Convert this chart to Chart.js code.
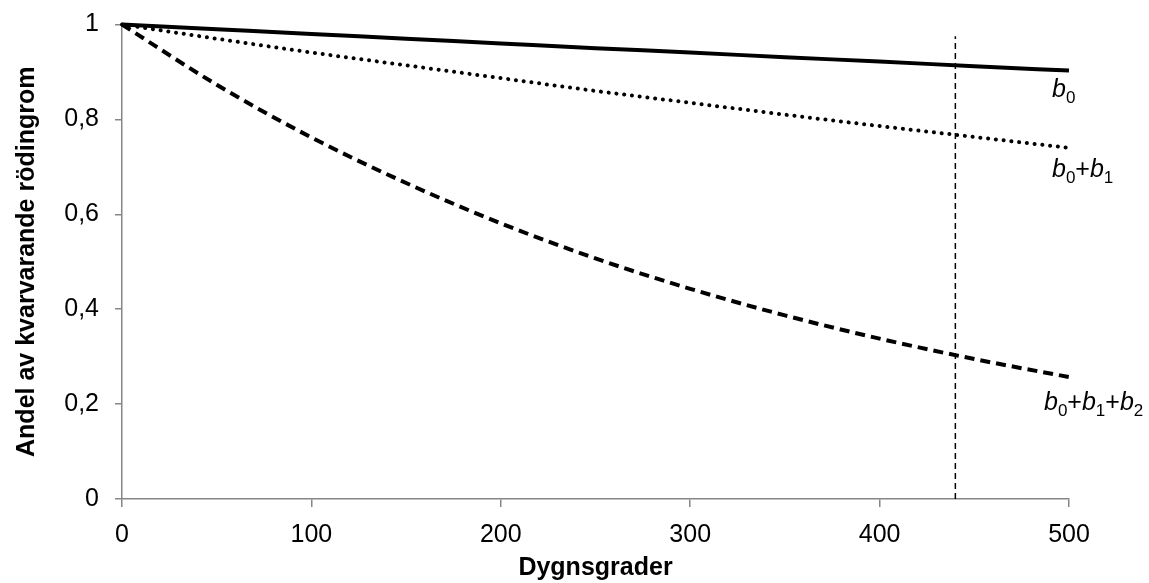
<!DOCTYPE html>
<html>
<head>
<meta charset="utf-8">
<script src="https://cdn.jsdelivr.net/npm/chart.js@4/dist/chart.umd.min.js"></script>
<style>
    body { margin: 0; background: #fff; }
    #wrap { width: 1149px; height: 583px; position: relative; }
</style>
</head>
<body>
<div id="wrap"><canvas id="decayChart"></canvas></div>
<script>
// Values
const degreeDays = [0, 50, 100, 150, 200, 250, 300, 350, 400, 450, 500];
const shareB0 = [1, 0.990, 0.980, 0.970, 0.960, 0.950, 0.941, 0.931, 0.922, 0.912, 0.903];
const shareB0B1 = [1, 0.970, 0.941, 0.914, 0.887, 0.860, 0.835, 0.810, 0.786, 0.763, 0.740];
const shareB0B1B2 = [1, 0.873, 0.762, 0.666, 0.581, 0.507, 0.443, 0.387, 0.338, 0.295, 0.257];
const markerX = 440;
const markerTop = 0.975;
const xTicks = [0, 100, 200, 300, 400, 500];
const yTicks = [0, 0.2, 0.4, 0.6, 0.8, 1];

const axisGrey = '#868686';
const font = 'Liberation Sans, Arial, sans-serif';

function toPoints(values) {
    return degreeDays.map((x, i) => ({ x: x, y: values[i] }));
}

// Draws the italic b-labels next to the end of each curve
const curveLabels = {
    id: 'curveLabels',
    afterDatasetsDraw(chart) {
        const ctx = chart.ctx;
        const xs = chart.scales.x, ys = chart.scales.y;
        const last = degreeDays.length - 1;
        const items = [
            { y: shareB0[last], dx: -17, dy: 26, parts: [['b', '0']] },
            { y: shareB0B1[last], dx: -17, dy: 29, parts: [['b', '0'], ['+b', '1']] },
            { y: shareB0B1B2[last], dx: -25, dy: 33, parts: [['b', '0'], ['+b', '1'], ['+b', '2']] }
        ];
        ctx.save();
        ctx.fillStyle = '#000';
        ctx.textBaseline = 'alphabetic';
        ctx.textAlign = 'left';
        items.forEach(item => {
            let px = xs.getPixelForValue(degreeDays[last]) + item.dx;
            const py = ys.getPixelForValue(item.y) + item.dy;
            item.parts.forEach(([main, sub]) => {
                // '+' is upright, 'b' is italic
                for (const ch of main) {
                    ctx.font = (ch === '+' ? '' : 'italic ') + '25px ' + font;
                    ctx.fillText(ch, px, py);
                    px += ctx.measureText(ch).width;
                }
                ctx.font = '17px ' + font;
                ctx.fillText(sub, px, py + 6);
                px += ctx.measureText(sub).width;
            });
        });
        ctx.restore();
    }
};

const ctx = document.getElementById('decayChart').getContext('2d');
new Chart(ctx, {
    type: 'line',
    data: {
        datasets: [
            {
                label: 'b0',
                data: toPoints(shareB0),
                borderColor: '#000',
                borderWidth: 4,
                pointRadius: 0,
                cubicInterpolationMode: 'monotone',
                clip: false
            },
            {
                label: 'b0+b1',
                data: toPoints(shareB0B1),
                borderColor: '#000',
                borderWidth: 4,
                borderDash: [0.1, 7.7],
                borderCapStyle: 'round',
                pointRadius: 0,
                cubicInterpolationMode: 'monotone',
                clip: false
            },
            {
                label: 'b0+b1+b2',
                data: toPoints(shareB0B1B2),
                borderColor: '#000',
                borderWidth: 4,
                borderDash: [10, 6],
                pointRadius: 0,
                cubicInterpolationMode: 'monotone',
                clip: false
            },
            {
                label: 'marker',
                data: [{ x: markerX, y: 0 }, { x: markerX, y: markerTop }],
                borderColor: '#000',
                borderWidth: 1.5,
                borderDash: [6, 4],
                pointRadius: 0
            }
        ]
    },
    options: {
        responsive: true,
        maintainAspectRatio: false,
        animation: false,
        layout: { padding: { top: 24.5, right: 80, left: 0, bottom: 0 } },
        plugins: {
            legend: { display: false },
            tooltip: { enabled: false }
        },
        scales: {
            x: {
                type: 'linear',
                min: 0,
                max: 500,
                afterFit: scale => { scale.height = 84; scale.paddingLeft = 0; scale.paddingRight = 0; },
                afterBuildTicks: scale => { scale.ticks = xTicks.map(v => ({ value: v })); },
                border: { color: axisGrey, width: 1.5 },
                grid: { drawOnChartArea: false, drawTicks: true, tickLength: 8, color: axisGrey, lineWidth: 1.5 },
                ticks: { color: '#000', font: { family: font, size: 25 }, padding: 13, maxRotation: 0 },
                title: {
                    display: true,
                    text: 'Dygnsgrader',
                    color: '#000',
                    font: { family: font, size: 25, weight: 'bold' },
                    padding: 0
                }
            },
            y: {
                min: 0,
                max: 1,
                afterFit: scale => { scale.width = 122; scale.paddingTop = 0; scale.paddingBottom = 0; },
                afterBuildTicks: scale => { scale.ticks = yTicks.map(v => ({ value: v })); },
                border: { color: axisGrey, width: 1.5 },
                grid: { drawOnChartArea: false, drawTicks: true, tickLength: 7, color: axisGrey, lineWidth: 1.5 },
                ticks: {
                    color: '#000',
                    font: { family: font, size: 25 },
                    padding: 16,
                    callback: v => String(Math.round(v * 10) / 10).replace('.', ',')
                },
                title: {
                    display: true,
                    text: 'Andel av kvarvarande rödingrom',
                    color: '#000',
                    font: { family: font, size: 25, weight: 'bold' },
                    padding: { top: 12, bottom: 0 }
                }
            }
        }
    },
    plugins: [curveLabels]
});
</script>
</body>
</html>
